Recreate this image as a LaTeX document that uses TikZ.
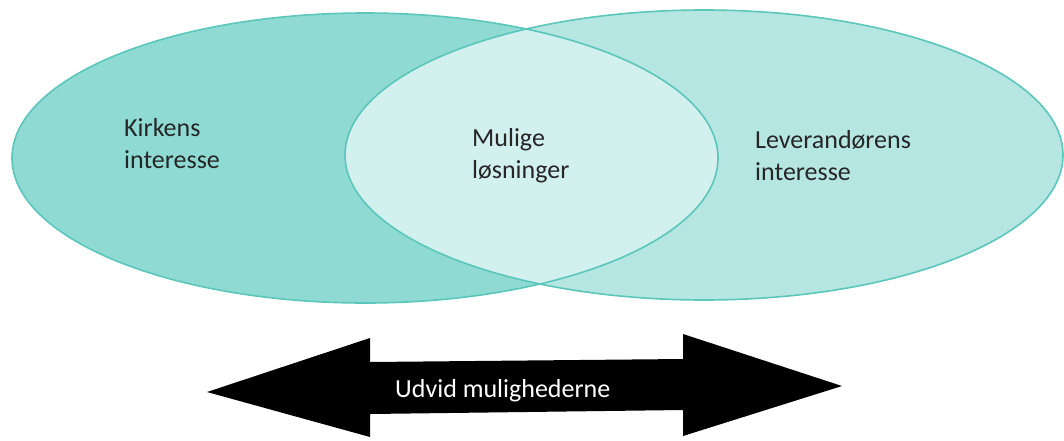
\documentclass[tikz,border=0pt]{standalone}
\usepackage{fontspec}
\setmainfont{Carlito}
\usetikzlibrary{shapes.geometric}
\definecolor{leftfill}{HTML}{8FDBD3}
\definecolor{rightfill}{HTML}{B5E6E2}
\definecolor{lensfill}{HTML}{D2F0EE}
\definecolor{rim}{HTML}{5BC6BB}
\tikzset{
  lbl/.style={anchor=base west, inner sep=0pt, align=left, font=\fontsize{26}{32}\selectfont, text=black!85},
  rimline/.style={draw=rim, line width=1.6pt},
}
\begin{document}
\begin{tikzpicture}[x=1pt,y=-1pt]
\useasboundingbox (0,0) rectangle (1064,440);
% left and right ellipses
\fill[leftfill] (365,158) ellipse [x radius=353pt, y radius=145pt];
\fill[rightfill] (704,155) ellipse [x radius=359pt, y radius=145pt];
% lens
\begin{scope}
  \clip (365,158) ellipse [x radius=353pt, y radius=145pt];
  \fill[lensfill] (704,155) ellipse [x radius=359pt, y radius=145pt];
\end{scope}
\draw[rimline] (365,158) ellipse [x radius=353pt, y radius=145pt];
\draw[rimline] (704,155) ellipse [x radius=359pt, y radius=145pt];
% labels (base anchor = baseline of last line)
\node[lbl] (kirk) at (124,168) {Kirkens\\interesse};
\node[lbl] (mul) at (472,178) {Mulige\\løsninger};
\node[lbl] (lev) at (755,180) {Leverandørens\\interesse};
% double arrow
\fill[black] (207,392) -- (370,338) -- (370,362) -- (683,359) -- (683,334)
  -- (842,386) -- (683,436) -- (683,410) -- (370,414) -- (370,437) -- cycle;
\node[lbl, text=white] (udv) at (395,397) {Udvid mulighederne};
\end{tikzpicture}
\end{document}
